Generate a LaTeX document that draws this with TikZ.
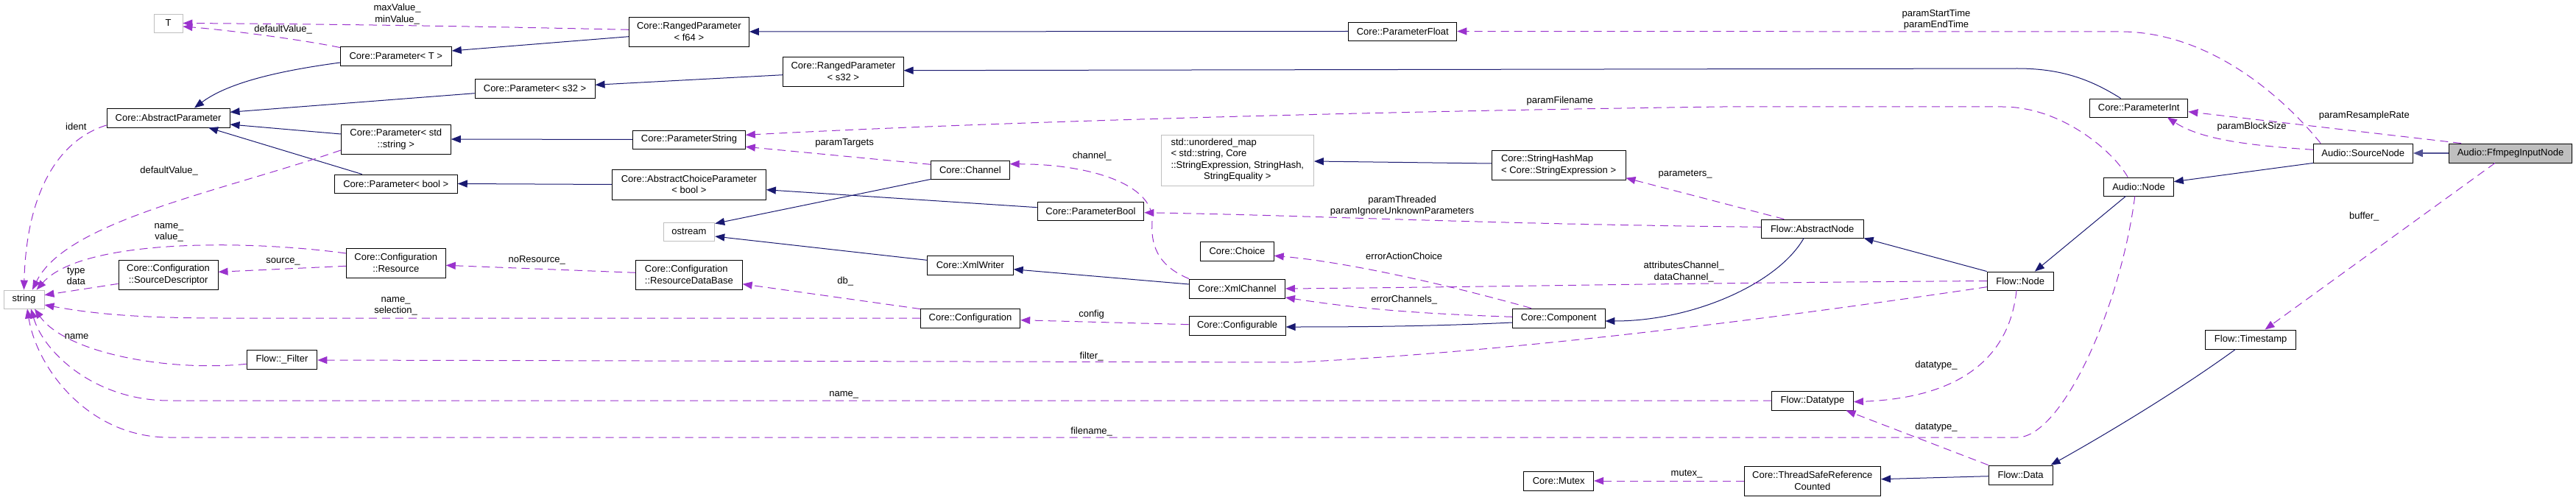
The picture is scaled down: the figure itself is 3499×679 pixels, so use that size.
\documentclass[tikz,border=0pt]{standalone}
\usepackage{fontspec}
\setmainfont{Liberation Sans}
\usetikzlibrary{arrows.meta}

\definecolor{dxblue}{HTML}{191970}
\definecolor{dxpurple}{HTML}{9A32CD}
\definecolor{dxgrey}{HTML}{BFBFBF}
\newcommand{\dxfont}{\fontsize{13}{15.5}\selectfont}

\tikzset{
  cls/.style={draw=black, fill=white, line width=0.9pt, minimum height=26pt,
    inner xsep=2pt, inner ysep=1pt, align=center, font=\dxfont},
  ext/.style={cls, draw=dxgrey},
  inh/.style={draw=dxblue, line width=1pt, -{Triangle[length=13pt,width=10pt]}},
  use/.style={draw=dxpurple, line width=1pt, dash pattern=on 11pt off 7pt,
    -{Triangle[length=13pt,width=10pt]}},
  lbl/.style={font=\dxfont, align=center, inner sep=0pt}
}

\begin{document}
\begin{tikzpicture}[x=1pt,y=-1pt]
  \useasboundingbox (0,0) rectangle (3499,679);

  \node[ext, minimum width=38.7pt, minimum height=25pt] (T) at (228.6,31.5) {T};
  \node[cls, minimum width=151pt] (parT) at (537.8,76) {Core::Parameter< T >};
  \node[cls, minimum width=167pt] (abspar) at (228.6,160) {Core::AbstractParameter};
  \node[cls, minimum width=149pt, minimum height=40pt] (parstr) at (537.8,189) {Core::Parameter< std\\::string >};
  \node[cls, minimum width=167pt, minimum height=25pt] (parbool) at (537.8,249.5) {Core::Parameter< bool >};
  \node[ext, minimum width=55pt, minimum height=25pt] (string) at (32.5,406.5) {string};
  \node[cls, minimum width=135pt, minimum height=40pt] (srcdesc) at (228.6,373) {Core::Configuration\\::SourceDescriptor};
  \node[cls, minimum width=135pt, minimum height=40pt] (resource) at (537.8,357) {Core::Configuration\\::Resource};
  \node[cls, minimum width=95.7pt] (filter) at (383,488) {Flow::\_Filter};
  \node[cls, minimum width=163pt, minimum height=40pt] (rpf64) at (935.9,43) {Core::RangedParameter\\< f64 >};
  \node[cls, minimum width=163pt] (pars32) at (726.6,120) {Core::Parameter< s32 >};
  \node[cls, minimum width=163.3pt, minimum height=40pt] (rps32) at (1145.4,97) {Core::RangedParameter\\< s32 >};
  \node[cls, minimum width=152.7pt, minimum height=25pt] (parstring) at (936,189.5) {Core::ParameterString};
  \node[cls, minimum width=209pt, minimum height=41pt] (abschoice) at (935.9,250.5) {Core::AbstractChoiceParameter\\< bool >};
  \node[ext, minimum width=69.7pt, minimum height=25pt] (ostream) at (935.9,314.5) {ostream};
  \node[cls, minimum width=144.6pt, minimum height=40pt, align=left] (resdb) at (935.9,373) {Core::Configuration\\::ResourceDataBase};
  \node[cls, minimum width=106.7pt, minimum height=25pt] (channel) at (1317.9,230.5) {Core::Channel};
  \node[cls, minimum width=144.7pt, minimum height=25pt] (parbool2) at (1481.5,286.5) {Core::ParameterBool};
  \node[ext, minimum width=207.3pt, minimum height=69pt] (umap) at (1680.8,217.5)
    {\begin{tabular}{@{}l@{}}std::unordered\_map\\< std::string, Core\\::StringExpression, StringHash,\\\multicolumn{1}{@{}c@{}}{StringEquality >}\end{tabular}};
  \node[cls, minimum width=99.5pt] (choice) at (1680.5,341) {Core::Choice};
  \node[cls, minimum width=116.7pt] (xmlwriter) at (1317.9,360) {Core::XmlWriter};
  \node[cls, minimum width=130pt] (xmlchannel) at (1680.5,392) {Core::XmlChannel};
  \node[cls, minimum width=135.5pt] (config) at (1318,432) {Core::Configuration};
  \node[cls, minimum width=131.2pt] (configurable) at (1680.6,442) {Core::Configurable};
  \node[cls, minimum width=147pt, minimum height=25pt] (parfloat) at (1905.3,42.5) {Core::ParameterFloat};
  \node[cls, minimum width=181.8pt, minimum height=40pt, align=left] (shmap) at (2117.1,224) {Core::StringHashMap\\< Core::StringExpression >};
  \node[cls, minimum width=125.5pt] (component) at (2117.2,432) {Core::Component};
  \node[cls, minimum width=95pt] (mutex) at (2117.2,653) {Core::Mutex};
  \node[cls, minimum width=133.3pt, minimum height=25pt] (parint) at (2905.2,146.5) {Core::ParameterInt};
  \node[cls, minimum width=94.7pt, minimum height=25pt] (audionode) at (2905,253.5) {Audio::Node};
  \node[cls, minimum width=139pt, minimum height=25pt] (absnode) at (2461.7,310.5) {Flow::AbstractNode};
  \node[cls, minimum width=90pt, minimum height=25pt] (flownode) at (2744.2,381.5) {Flow::Node};
  \node[cls, minimum width=111pt] (datatype) at (2462,544) {Flow::Datatype};
  \node[cls, minimum width=185.6pt, minimum height=40pt] (tsrc) at (2461.8,653) {Core::ThreadSafeReference\\Counted};
  \node[cls, minimum width=87pt] (data) at (2744.6,645) {Flow::Data};
  \node[cls, minimum width=135.2pt] (srcnode) at (3209.8,208) {Audio::SourceNode};
  \node[cls, minimum width=167.3pt, fill=dxgrey] (ffmpeg) at (3410,208) {Audio::FfmpegInputNode};
  \node[cls, minimum width=123.4pt] (timestamp) at (3057.2,461) {Flow::Timestamp};

  \draw[inh] ([yshift=-9pt]parT.west) .. controls (380,96) and (310,112) .. ([xshift=35.4pt]abspar.north);
  \draw[inh] ([yshift=-6.7pt]pars32.west) -- ([yshift=7.7pt]abspar.east);
  \draw[inh] ([yshift=7pt]parstr.west) -- ([yshift=-9pt]abspar.east);
  \draw[inh] ([xshift=-46.1pt]parbool.north) -- ([xshift=54.6pt]abspar.south);
  \draw[inh] ([yshift=-6.7pt]rpf64.west) -- ([yshift=7pt]parT.east);
  \draw[inh] ([yshift=-4.7pt]rps32.west) -- ([yshift=4.7pt]pars32.east);
  \draw[inh] (parstring.west) -- (parstr.east);
  \draw[inh] (abschoice.west) -- (parbool.east);
  \draw[inh] (parfloat.west) -- (rpf64.east);
  \draw[inh] ([xshift=-24.6pt]parint.north) .. controls (2840,108) and (2800,93) .. (2740,93) -- ([yshift=1.3pt]rps32.east);
  \draw[inh] ([yshift=4.8pt]parbool2.west) -- ([yshift=-7.2pt]abschoice.east);
  \draw[inh] (channel.south west) -- ([yshift=-2pt]ostream.north east);
  \draw[inh] ([yshift=6.7pt]xmlwriter.west) -- ([yshift=-6.5pt]ostream.east);
  \draw[inh] ([yshift=2pt]shmap.west) -- ([yshift=-1.5pt]umap.east);
  \draw[inh] ([yshift=6pt]xmlchannel.west) -- ([yshift=-5.7pt]xmlwriter.east);
  \draw[inh] ([yshift=-6pt]component.west) .. controls (1950,443) and (1850,444) .. ([yshift=-2pt]configurable.east);
  \draw[inh] ([xshift=-11.6pt]absnode.south) .. controls (2415,385) and (2300,436) .. ([yshift=-4pt]component.east);
  \draw[inh] (flownode.north west) -- (absnode.south east);
  \draw[inh] ([xshift=-17.5pt]audionode.south) -- ([xshift=19.7pt]flownode.north);
  \draw[inh] (srcnode.south west) -- ([yshift=6.8pt]audionode.east);
  \draw[inh, line width=1.6pt, draw=dxblue!75] (ffmpeg.west) -- (srcnode.east);
  \draw[inh] ([yshift=-1.7pt]data.west) -- ([yshift=2.3pt]tsrc.east);
  \draw[inh] ([xshift=-20.8pt]timestamp.south) .. controls (2960,530) and (2860,590) .. ([xshift=-3pt]data.north east);

  \draw[use] ([yshift=-2pt]parT.north west) .. controls (400,52) and (300,40) .. ([yshift=-4.5pt]T.east);
  \draw[use] ([yshift=2.7pt]rpf64.west) .. controls (700,37) and (500,33) .. (T.east);
  \draw[use] ([yshift=-10pt]abspar.west) .. controls (80,190) and (36,260) .. (string.north);
  \draw[use] ([yshift=-15pt]parstr.west) .. controls (300,260) and (90,300) .. ([xshift=11.5pt]string.north);
  \draw[use] ([yshift=13pt]resource.west) .. controls (330,325) and (110,325) .. ([xshift=17.2pt]string.north);
  \draw[use] ([yshift=-12.3pt]srcdesc.west) -- ([yshift=5.8pt]string.east);
  \draw[use] (config.west) -- (300,432) .. controls (180,432) and (120,425) .. ([yshift=-7.5pt]string.east);
  \draw[use] ([yshift=-6.3pt]filter.west) .. controls (230,505) and (90,480) .. ([xshift=14.5pt]string.south);
  \draw[use] (datatype.west) -- (230,544) .. controls (130,544) and (60,480) .. ([xshift=9.5pt]string.south);
  \draw[use] ([xshift=-5.2pt]audionode.south) .. controls (2880,420) and (2800,594) .. (2740,594) -- (230,594)
    .. controls (120,594) and (50,500) .. ([xshift=4.5pt]string.south);
  \draw[use] ([yshift=-4.3pt]resource.west) -- ([yshift=3.7pt]srcdesc.east);
  \draw[use] ([yshift=2.7pt]resdb.west) -- ([yshift=-3.3pt]resource.east);
  \draw[use] ([yshift=-1pt]config.north west) -- ([yshift=-12.7pt]resdb.east);
  \draw[use] ([yshift=1.3pt]configurable.west) -- ([yshift=-2.7pt]config.east);
  \draw[use] ([yshift=-8.2pt]flownode.west) .. controls (2400,434) and (2050,478) .. (1760,492) -- ([yshift=-1pt]filter.east);
  \draw[use] ([yshift=7.2pt]channel.west) -- ([yshift=-9.8pt]parstring.east);
  \draw[use] ([xshift=-14.8pt]audionode.north) .. controls (2870,205) and (2800,145) .. (2720,145) -- (2340,145)
    .. controls (1800,152) and (1300,168) .. ([yshift=6.2pt]parstring.east);
  \draw[use] (xmlchannel.north west) .. controls (1570,360) and (1563,330) .. (1565,300)
    .. controls (1567,250) and (1480,223) .. ([yshift=7.8pt]channel.east);
  \draw[use] ([yshift=2.2pt]absnode.west) .. controls (2000,304) and (1800,293) .. ([yshift=-2.2pt]parbool2.east);
  \draw[use] ([xshift=-38.4pt]absnode.north) -- ([yshift=-17.7pt]shmap.east);
  \draw[use] ([xshift=-37.4pt]component.north) .. controls (1950,382) and (1820,355) .. ([yshift=-6.3pt]choice.east);
  \draw[use] (flownode.west) .. controls (2300,384) and (2000,390) .. (xmlchannel.east);
  \draw[use] ([yshift=1.7pt]component.west) .. controls (1930,426) and (1850,420) .. ([yshift=-12pt]xmlchannel.east);
  \draw[use] ([xshift=-57.7pt]srcnode.north) .. controls (3100,130) and (3000,43) .. (2880,43) -- (parfloat.east);
  \draw[use] ([xshift=-66.9pt]ffmpeg.north) -- ([yshift=-5.2pt]parint.east);
  \draw[use] ([yshift=4.7pt]srcnode.west) .. controls (3060,198) and (2990,190) .. ([xshift=38.7pt]parint.south);
  \draw[use] ([xshift=-21.1pt]ffmpeg.south) -- ([xshift=19.3pt]timestamp.north);
  \draw[use] ([xshift=-5.2pt]flownode.south) .. controls (2730,480) and (2670,540) .. ([yshift=-1.7pt]datatype.east);
  \draw[use] (data.north west) -- ([xshift=45.5pt]datatype.south);
  \draw[use] (tsrc.west) -- (mutex.east);

  \node[lbl] (l-defval) at (384.6,40) {defaultValue\_};
  \node[lbl] (l-minmax) at (539.6,19) {maxValue\_\\minValue\_};
  \node[lbl] (l-ident) at (103.3,172.3) {ident};
  \node[lbl] (l-defstr) at (229.6,232.3) {defaultValue\_};
  \node[lbl] (l-namevalue) at (229.6,316) {name\_\\value\_};
  \node[lbl] (l-typedata) at (103.3,375) {type\\data};
  \node[lbl] (l-source) at (384.6,355) {source\_};
  \node[lbl] (l-namesel) at (537.6,416) {name\_\\selection\_};
  \node[lbl] (l-name) at (104.1,457) {name};
  \node[lbl] (l-nores) at (729.2,353) {noResource\_};
  \node[lbl] (l-db) at (1148.2,382) {db\_};
  \node[lbl] (l-dtname) at (1146.3,536) {name\_};
  \node[lbl] (l-targets) at (1147,194.7) {paramTargets};
  \node[lbl] (l-channel) at (1483.3,212) {channel\_};
  \node[lbl] (l-config) at (1482.6,427) {config};
  \node[lbl] (l-filter) at (1482.6,484) {filter\_};
  \node[lbl] (l-filename) at (1482.6,586) {filename\_};
  \node[lbl] (l-pfilename) at (2118.8,137) {paramFilename};
  \node[lbl] (l-threaded) at (1904.5,279.5) {paramThreaded\\paramIgnoreUnknownParameters};
  \node[lbl] (l-params) at (2289.1,237) {parameters\_};
  \node[lbl] (l-erraction) at (1907.2,348) {errorActionChoice};
  \node[lbl] (l-attrdata) at (2287.2,369) {attributesChannel\_\\dataChannel\_};
  \node[lbl] (l-errchan) at (1907.2,407) {errorChannels\_};
  \node[lbl] (l-mutex) at (2291,644) {mutex\_};
  \node[lbl] (l-startend) at (2630,26.5) {paramStartTime\\paramEndTime};
  \node[lbl] (l-resample) at (3211.3,157) {paramResampleRate};
  \node[lbl] (l-blocksize) at (3058.5,172) {paramBlockSize};
  \node[lbl] (l-buffer) at (3211.3,294) {buffer\_};
  \node[lbl] (l-dtnode) at (2630,496) {datatype\_};
  \node[lbl] (l-dtdata) at (2630,580) {datatype\_};
\end{tikzpicture}
\end{document}
